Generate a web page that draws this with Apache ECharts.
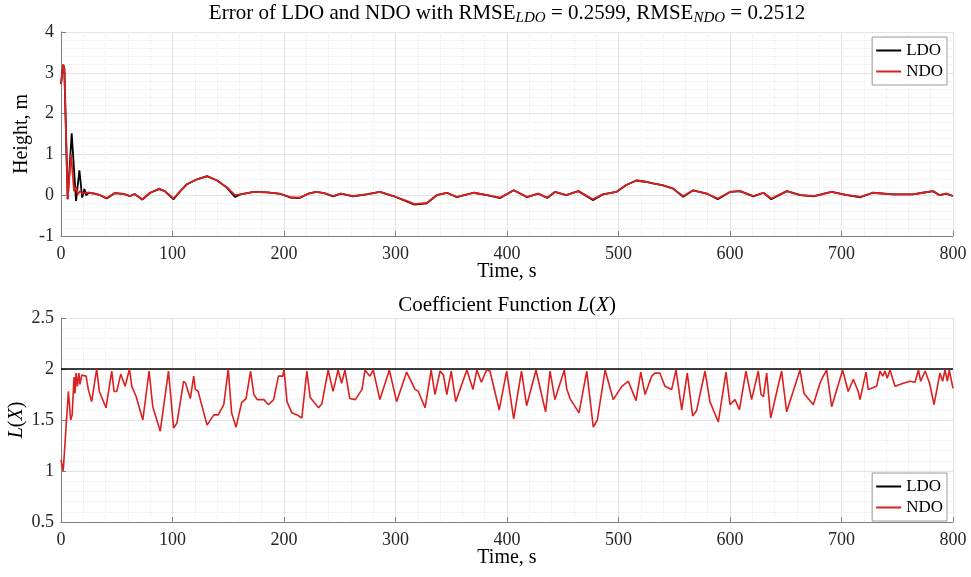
<!DOCTYPE html>
<html>
<head>
<meta charset="utf-8">
<script src="https://cdn.jsdelivr.net/npm/echarts@6/dist/echarts.min.js"></script>
<style>html,body{margin:0;padding:0;background:#fff;}#c{width:971px;height:577px;}</style>
</head>
<body>
<div id="c"></div>
<script>
// ---------- data ----------
const timeTicks = [0, 100, 200, 300, 400, 500, 600, 700, 800];
const heightTicks = [-1, 0, 1, 2, 3, 4];
const lTicks = [0.5, 1, 1.5, 2, 2.5];

const ldoErrTime = [0, 2, 3, 6, 9.6, 13.5, 16.5, 19, 21, 22.5, 25, 30, 35, 41, 48, 56, 62, 66, 73, 80, 88, 93, 101, 107, 113, 122, 131, 140, 149, 156, 161, 173, 185, 197, 206, 214, 222, 229, 236, 244, 251, 262, 274, 286, 298, 310, 317, 328, 337, 346, 355, 370, 382, 394, 406, 418, 428, 436, 443, 453, 464, 477, 486, 498, 507, 516, 524, 531, 540, 549, 558, 567, 579, 589, 600, 609, 621, 630, 637, 651, 663, 675, 691, 705, 717, 728, 746, 764, 773, 782, 788, 794, 800];
const ldoErr = [2.73, 3.2, 3.1, -0.1, 1.52, -0.14, 0.61, -0.06, 0.15, 0.0, 0.06, 0.04, 0.0, -0.08, 0.05, 0.03, -0.02, 0.03, -0.11, 0.06, 0.15, 0.1, -0.1, 0.1, 0.27, 0.39, 0.47, 0.36, 0.18, -0.04, 0.02, 0.08, 0.07, 0.03, -0.06, -0.07, 0.04, 0.08, 0.05, -0.03, 0.04, -0.03, 0.02, 0.08, -0.02, -0.15, -0.23, -0.2, 0.0, 0.06, -0.05, 0.06, 0.0, -0.07, 0.12, -0.05, 0.04, -0.07, 0.08, 0.0, 0.1, -0.12, 0.02, 0.08, 0.25, 0.36, 0.33, 0.29, 0.24, 0.16, -0.04, 0.12, 0.04, -0.1, 0.08, 0.1, -0.03, 0.06, -0.1, 0.1, 0.0, -0.03, 0.08, 0.0, -0.05, 0.06, 0.02, 0.02, 0.06, 0.1, 0.0, 0.04, -0.02];

const ndoErrTime = [0, 2, 3, 6, 9, 11.7, 13.5, 15, 17, 19.5, 22, 25, 30, 35, 41, 48, 56, 62, 66, 73, 80, 88, 93, 101, 107, 113, 122, 131, 140, 149, 156, 161, 173, 185, 197, 206, 214, 222, 229, 236, 244, 251, 262, 274, 286, 298, 310, 317, 328, 337, 346, 355, 370, 382, 394, 406, 418, 428, 436, 443, 453, 464, 477, 486, 498, 507, 516, 524, 531, 540, 549, 558, 567, 579, 589, 600, 609, 621, 630, 637, 651, 663, 675, 691, 705, 717, 728, 746, 764, 773, 782, 788, 794, 800];
const ndoErr = [2.73, 3.2, 3.1, -0.1, 1.0, 0.1, 0.2, 0.02, 0.1, 0.04, 0.06, 0.06, 0.04, 0.0, -0.07, 0.05, 0.03, -0.02, 0.03, -0.1, 0.06, 0.16, 0.1, -0.08, 0.1, 0.27, 0.39, 0.46, 0.36, 0.19, 0.0, 0.02, 0.08, 0.07, 0.03, -0.05, -0.06, 0.04, 0.08, 0.05, -0.02, 0.04, -0.02, 0.02, 0.08, -0.02, -0.14, -0.22, -0.19, 0.0, 0.06, -0.04, 0.06, 0.0, -0.06, 0.12, -0.04, 0.04, -0.06, 0.08, 0.0, 0.1, -0.1, 0.02, 0.08, 0.25, 0.36, 0.33, 0.29, 0.24, 0.16, -0.02, 0.12, 0.04, -0.08, 0.08, 0.1, -0.02, 0.06, -0.08, 0.1, 0.0, -0.02, 0.08, 0.0, -0.04, 0.06, 0.02, 0.02, 0.06, 0.1, 0.0, 0.04, -0.02];

const ldoLTime = [0, 800];
const ldoL = [2, 2];

const ndoLTime = [0, 2, 3.6, 6.6, 8.7, 10, 11.7, 12.6, 13.5, 14.7, 16, 17, 18.6, 19.8, 22.5, 24.5, 27.5, 32, 34.4, 40.4, 45.5, 47.6, 50, 53.6, 57.5, 59, 61.4, 63.5, 67.4, 73.4, 79, 82.3, 89, 96.4, 101, 104, 110, 111.7, 116, 119, 120.4, 123, 131, 137, 141, 146, 150, 153, 157, 162, 166, 170, 173, 176, 182, 186, 190.7, 195, 199, 200, 202.7, 207, 211.7, 216, 220.5, 223.5, 231, 234, 239.6, 244, 248.5, 251.7, 254.7, 259, 264, 270, 272.6, 277, 280, 286, 294.5, 301, 310, 317.5, 320.5, 326.5, 332, 335.4, 340, 343, 346, 350, 354, 364, 369.5, 373, 377, 381.7, 384.7, 393, 399.7, 406, 413, 417.6, 426, 434.6, 438.6, 443, 451.4, 453.5, 456.5, 464.6, 471.5, 477.4, 481, 488, 495.3, 503, 508.8, 515.7, 520, 523.8, 529.8, 532.7, 537, 541.7, 547.7, 551.6, 556.7, 561.7, 566.5, 570, 577.6, 582, 589.5, 596.4, 600, 604.5, 608.4, 614.3, 619.4, 625.4, 627.8, 630, 632.9, 636.5, 646.3, 650.8, 662.8, 666.4, 674.7, 680.7, 683.6, 686.7, 691.2, 701, 706, 710.6, 715, 716.6, 722, 724, 731.5, 734.5, 737, 739, 741, 743.5, 748, 755.4, 761.4, 766, 769, 771, 775, 779, 783, 788.3, 790.7, 792.8, 795, 796.6, 800];
const ndoL = [1.11, 1.0, 1.0, 1.78, 1.5, 1.55, 1.92, 1.76, 1.96, 1.83, 1.96, 1.85, 1.94, 1.93, 1.93, 1.8, 1.68, 2.0, 1.78, 1.62, 1.98, 1.78, 1.78, 1.95, 1.83, 1.83, 2.0, 1.83, 1.73, 1.5, 1.98, 1.63, 1.39, 1.98, 1.42, 1.47, 1.88, 1.86, 1.71, 1.93, 1.8, 1.78, 1.45, 1.55, 1.55, 1.65, 2.0, 1.57, 1.43, 1.67, 1.71, 1.98, 1.75, 1.7, 1.7, 1.65, 1.7, 1.93, 1.93, 2.0, 1.68, 1.57, 1.55, 1.52, 1.98, 1.72, 1.62, 1.66, 1.99, 1.78, 1.99, 1.86, 1.99, 1.71, 1.7, 1.8, 1.99, 1.93, 1.99, 1.7, 1.99, 1.68, 1.97, 1.8, 1.78, 1.62, 1.99, 1.75, 1.98, 1.94, 1.75, 1.98, 1.68, 1.99, 1.8, 1.99, 1.87, 1.99, 1.98, 1.6, 1.98, 1.51, 1.98, 1.64, 1.99, 1.58, 1.98, 1.7, 1.99, 1.81, 1.71, 1.57, 1.98, 1.43, 1.5, 1.99, 1.7, 1.83, 1.88, 1.69, 1.97, 1.75, 1.93, 1.96, 1.96, 1.83, 1.8, 1.99, 1.6, 1.96, 1.54, 1.59, 1.98, 1.68, 1.48, 1.97, 1.65, 1.7, 1.6, 1.98, 1.7, 1.98, 1.75, 1.73, 1.96, 1.52, 1.98, 1.58, 1.99, 1.76, 1.65, 1.86, 1.93, 1.99, 1.63, 1.99, 1.78, 1.9, 1.78, 1.7, 1.97, 1.8, 1.83, 1.98, 1.93, 1.98, 1.91, 1.99, 1.83, 1.86, 1.88, 1.87, 1.99, 1.88, 1.98, 1.86, 1.65, 1.96, 1.88, 1.99, 1.88, 1.99, 1.81];

// ---------- chart ----------
const F = 'Liberation Serif';
const AX = '#7f7f7f';
const zip = (a, b) => a.map((v, i) => [v, b[i]]);

function xAx(g) {
  return {
    type: 'value', gridIndex: g,
    min: timeTicks[0], max: timeTicks[timeTicks.length - 1], interval: timeTicks[1] - timeTicks[0],
    name: 'Time, s', nameLocation: 'middle', nameGap: 26, nameMoveOverlap: false,
    nameTextStyle: { fontFamily: F, fontSize: 20, color: '#000' },
    axisLine: { show: true, onZero: false, lineStyle: { color: AX, width: 1 } },
    axisTick: { show: true, inside: true, length: 5, lineStyle: { color: AX } },
    axisLabel: { margin: 9, fontFamily: F, fontSize: 18, color: '#262626' },
    splitLine: { show: true, lineStyle: { color: '#e3e3e3', width: 1 } },
    minorTick: { show: false, splitNumber: 5 },
    minorSplitLine: { show: true, lineStyle: { color: '#ececec', width: 1, type: 'dotted' } }
  };
}
function yAx(g, ticks, name, gap, minorN) {
  return {
    type: 'value', gridIndex: g,
    min: ticks[0], max: ticks[ticks.length - 1], interval: ticks[1] - ticks[0],
    name: name, nameLocation: 'middle', nameGap: gap, nameRotate: 90, nameMoveOverlap: false,
    nameTextStyle: { fontFamily: F, fontSize: 20, color: '#000',
      rich: { i: { fontFamily: F, fontSize: 20, fontStyle: 'italic', color: '#000' } } },
    axisLine: { show: true, onZero: false, lineStyle: { color: AX, width: 1 } },
    axisTick: { show: true, inside: true, length: 5, lineStyle: { color: AX } },
    axisLabel: { margin: 7, fontFamily: F, fontSize: 18, color: '#262626' },
    splitLine: { show: true, lineStyle: { color: '#e3e3e3', width: 1 } },
    minorTick: { show: false, splitNumber: minorN },
    minorSplitLine: { show: true, lineStyle: { color: '#ececec', width: 1, type: 'dotted' } }
  };
}
function leg(top) {
  return {
    orient: 'vertical', right: 24, top: top,
    data: ['LDO', 'NDO'], selectedMode: false,
    icon: 'rect', itemWidth: 25, itemHeight: 2, itemGap: 2,
    padding: [4, 4, 4, 4],
    backgroundColor: '#fff', borderColor: '#9a9a9a', borderWidth: 1,
    textStyle: { fontFamily: F, fontSize: 17, color: '#000', lineHeight: 19 }
  };
}
const titleStyle = {
  fontFamily: F, fontSize: 21, fontWeight: 'normal', color: '#000', lineHeight: 26,
  rich: {
    s: { fontFamily: F, fontSize: 15, fontStyle: 'italic', color: '#000', verticalAlign: 'bottom', lineHeight: 18 },
    i: { fontFamily: F, fontSize: 21, fontStyle: 'italic', color: '#000', lineHeight: 26 }
  }
};

const chart = echarts.init(document.getElementById('c'), null, { renderer: 'canvas' });
chart.setOption({
  backgroundColor: '#fff',
  animation: false,
  title: [
    { text: 'Error of LDO and NDO with RMSE{s|LDO} = 0.2599, RMSE{s|NDO} = 0.2512', left: 507, top: 0, textAlign: 'center', padding: 0, textStyle: titleStyle },
    { text: 'Coefficient Function {i|L}({i|X})', left: 507, top: 292, textAlign: 'center', padding: 0, textStyle: titleStyle }
  ],
  legend: [leg(37), leg(473)],
  grid: [
    { left: 61, right: 18, top: 32, height: 204, containLabel: false, outerBoundsMode: 'none' },
    { left: 61, right: 18, top: 318, height: 204, containLabel: false, outerBoundsMode: 'none' }
  ],
  xAxis: [xAx(0), xAx(1)],
  yAxis: [
    yAx(0, heightTicks, 'Height, m', 29, 5),
    yAx(1, lTicks, '{i|L}({i|X})', 34, 5)
  ],
  series: [
    { name: 'LDO', type: 'line', xAxisIndex: 0, yAxisIndex: 0, data: zip(ldoErrTime, ldoErr), showSymbol: false, lineStyle: { color: '#000', width: 1.8 }, itemStyle: { color: '#000' } },
    { name: 'NDO', type: 'line', xAxisIndex: 0, yAxisIndex: 0, data: zip(ndoErrTime, ndoErr), showSymbol: false, lineStyle: { color: '#dc1f1f', width: 1.8 }, itemStyle: { color: '#dc1f1f' } },
    { name: 'LDO', type: 'line', xAxisIndex: 1, yAxisIndex: 1, data: zip(ldoLTime, ldoL), showSymbol: false, lineStyle: { color: '#000', width: 1.6 }, itemStyle: { color: '#000' } },
    { name: 'NDO', type: 'line', xAxisIndex: 1, yAxisIndex: 1, data: zip(ndoLTime, ndoL), showSymbol: false, lineStyle: { color: '#dc1f1f', width: 1.6 }, itemStyle: { color: '#dc1f1f' } }
  ]
});
</script>
</body>
</html>
